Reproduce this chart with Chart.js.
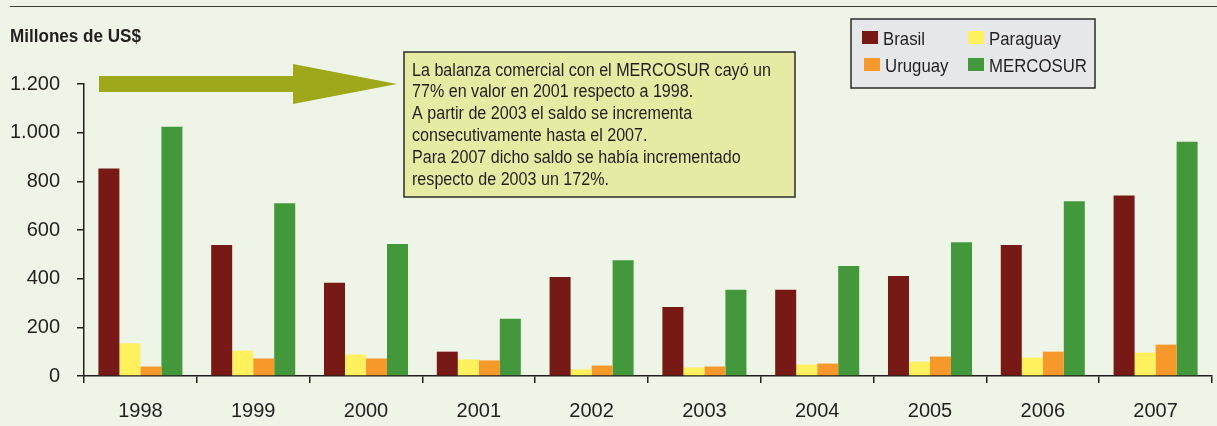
<!DOCTYPE html>
<html>
<head>
<meta charset="utf-8">
<script src="https://cdn.jsdelivr.net/npm/chart.js@4/dist/chart.umd.min.js"></script>
<style>
  html, body { margin: 0; padding: 0; background: #EEF5E6; }
  #wrap { width: 1217px; height: 426px; position: relative; }
</style>
</head>
<body>
<div id="wrap"><canvas id="balanza" width="1217" height="426"></canvas></div>
<script>
// datos (millones de US$)
const years = ['1998', '1999', '2000', '2001', '2002', '2003', '2004', '2005', '2006', '2007'];
const brasil = [853, 538, 383, 100, 407, 284, 354, 411, 538, 742];
const paraguay = [134, 104, 88, 68, 27, 35, 47, 59, 76, 96];
const uruguay = [39, 72, 72, 64, 43, 39, 51, 80, 100, 129];
const mercosur = [1024, 710, 542, 235, 476, 354, 452, 550, 718, 963];
const yTickLabels = ['0', '200', '400', '600', '800', '1.000', '1.200'];

const seriesNames = ['Brasil', 'Paraguay', 'Uruguay', 'MERCOSUR'];
const seriesColors = ['#771A15', '#FFF05E', '#F7982A', '#43983C'];

const axisTitle = 'Millones de US$';
const noteLines = [
    'La balanza comercial con el MERCOSUR cayó un',
    '77% en valor en 2001 respecto a 1998.',
    'A partir de 2003 el saldo se incrementa',
    'consecutivamente hasta el 2007.',
    'Para 2007 dicho saldo se había incrementado',
    'respecto de 2003 un 172%.'
];

const ink = '#231F20';

// texto algo condensado (la fuente original es mas estrecha)
function narrowText(ctx, text, x, y, sx) {
    ctx.save();
    ctx.translate(x, y);
    ctx.scale(sx, 1);
    ctx.fillText(text, 0, 0);
    ctx.restore();
}

// dibuja titulo, flecha, recuadro de texto y leyenda
const decorPlugin = {
    id: 'decor',
    beforeDraw(chart) {
        const ctx = chart.ctx;
        ctx.save();
        ctx.strokeStyle = '#3a3a3a';
        ctx.lineWidth = 1.2;
        ctx.beginPath();
        ctx.moveTo(10, 6.5);
        ctx.lineTo(1217, 6.5);
        ctx.stroke();

        ctx.fillStyle = ink;
        ctx.font = 'bold 19px "Liberation Sans", Arial';
        ctx.textBaseline = 'alphabetic';
        ctx.textAlign = 'left';
        const w = ctx.measureText(axisTitle).width;
        narrowText(ctx, axisTitle, 10, 42, 131 / w);
        ctx.restore();
    },
    afterDraw(chart) {
        const ctx = chart.ctx;
        ctx.save();

        // flecha
        ctx.fillStyle = '#9FA81A';
        ctx.beginPath();
        ctx.moveTo(99, 76);
        ctx.lineTo(293, 76);
        ctx.lineTo(293, 64);
        ctx.lineTo(397, 84);
        ctx.lineTo(293, 104);
        ctx.lineTo(293, 92);
        ctx.lineTo(99, 92);
        ctx.closePath();
        ctx.fill();

        // recuadro
        ctx.fillStyle = '#E6EBA4';
        ctx.fillRect(404, 52, 391, 145);
        ctx.strokeStyle = '#2b2b2b';
        ctx.lineWidth = 1.5;
        ctx.strokeRect(404, 52, 391, 145);

        ctx.fillStyle = ink;
        ctx.font = '17.5px "Liberation Sans", Arial';
        ctx.textAlign = 'left';
        ctx.textBaseline = 'alphabetic';
        const noteScale = 359 / ctx.measureText(noteLines[0]).width;
        noteLines.forEach((line, i) => {
            narrowText(ctx, line, 412, 75.5 + i * 21.8, noteScale);
        });

        // leyenda
        ctx.fillStyle = '#E6E7E8';
        ctx.fillRect(851, 19, 244, 69);
        ctx.strokeStyle = '#2b2b2b';
        ctx.lineWidth = 1.5;
        ctx.strokeRect(851, 19, 244, 69);

        ctx.font = '19px "Liberation Sans", Arial';
        const legScale = 98 / ctx.measureText('MERCOSUR').width;
        const cols = [862, 968];
        const rows = [31, 58];
        chart.data.datasets.forEach((ds, i) => {
            const x = cols[i % 2] + (i === 2 ? 2 : 0);
            const y = rows[Math.floor(i / 2)];
            ctx.fillStyle = ds.backgroundColor;
            ctx.fillRect(x, y, 16, 13);
            ctx.fillStyle = ink;
            narrowText(ctx, ds.label, x + 21, y + 13.5, legScale);
        });

        ctx.restore();
    }
};

const datasets = [brasil, paraguay, uruguay, mercosur].map((values, i) => ({
    label: seriesNames[i],
    data: values,
    backgroundColor: seriesColors[i],
    borderWidth: 0,
    categoryPercentage: 0.745,
    barPercentage: 1.0
}));

const balanzaChart = new Chart(document.getElementById('balanza').getContext('2d'), {
    type: 'bar',
    data: { labels: years, datasets: datasets },
    options: {
        responsive: false,
        animation: false,
        layout: { padding: { top: 84, right: 5, left: 0, bottom: 0 } },
        plugins: {
            legend: { display: false },
            tooltip: { enabled: false }
        },
        scales: {
            x: {
                grid: { drawOnChartArea: false, drawTicks: true, tickLength: 7, color: ink, lineWidth: 1.5 },
                border: { display: true, color: ink, width: 1.5 },
                ticks: { color: ink, font: { family: '"Liberation Sans", Arial', size: 20 }, padding: 16 },
                afterFit(scale) { scale.height = 50; }
            },
            y: {
                min: 0,
                max: 1200,
                grid: { drawOnChartArea: false, drawTicks: true, tickLength: 7, color: ink, lineWidth: 1.5 },
                border: { display: true, color: ink, width: 1.5 },
                ticks: {
                    stepSize: 200,
                    color: ink,
                    font: { family: '"Liberation Sans", Arial', size: 20 },
                    padding: 17,
                    callback: (value, index) => yTickLabels[index]
                },
                afterFit(scale) { scale.width = 84; }
            }
        }
    },
    plugins: [decorPlugin]
});
</script>
</body>
</html>
